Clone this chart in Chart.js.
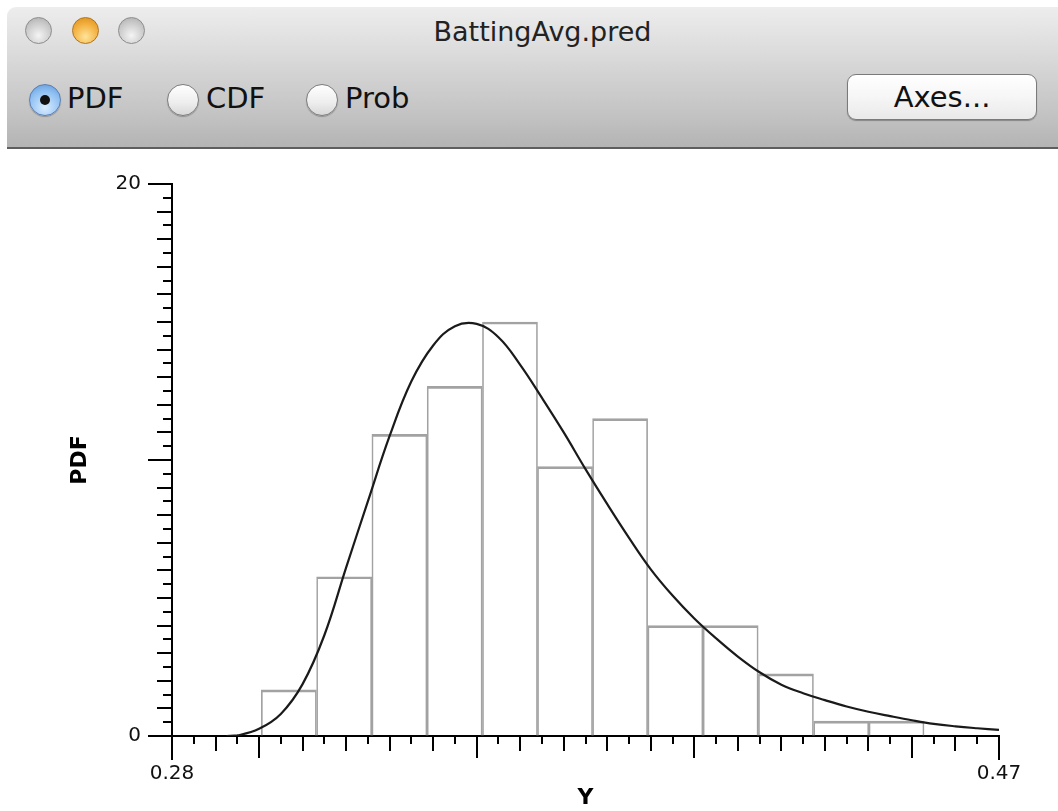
<!DOCTYPE html>
<html>
<head>
<meta charset="utf-8">
<title>BattingAvg.pred</title>
<script src="https://cdn.jsdelivr.net/npm/chart.js@4/dist/chart.umd.min.js"></script>
<style>
  html, body { margin: 0; padding: 0; background: #fff; width: 1058px; height: 811px; overflow: hidden; font-family: "DejaVu Sans", sans-serif; }
  #win { position: absolute; left: 7px; top: 7px; width: 1051px; height: 804px; background: #fff; border-top-left-radius: 9px; overflow: hidden; }
  #toolbar { position: absolute; left: 0; top: 0; width: 100%; height: 140px;
    background: linear-gradient(#ededed, #dadada 35%, #c4c4c4 75%, #b4b4b4);
    border-bottom: 2px solid #5e5e5e; }
  .light { position: absolute; top: 10px; width: 25px; height: 25px; border-radius: 50%;
    border: 1px solid #8c8c8c; background: radial-gradient(circle at 50% 70%, #f4f4f4, #c9c9c9 60%, #a9a9a9); }
  .light.orange { border-color: #b0741c; background: radial-gradient(circle at 50% 75%, #ffe49a, #f3b142 55%, #d98b12); }
  #title { position: absolute; top: 9px; left: 10px; width: 100%; text-align: center; font-size: 27px; color: #222; }
  .radio { position: absolute; top: 77px; width: 30px; height: 30px; border-radius: 50%;
    border: 1px solid #7d7d7d; background: linear-gradient(#ffffff, #ededed 60%, #d8d8d8); box-shadow: 0 1px 1px rgba(0,0,0,.25); }
  .radio.on { border-color: #5b7fb3; background: radial-gradient(circle at 50% 75%, #d9ecff, #8fc0f2 60%, #5b96d8); }
  .radio.on::after { content: ""; position: absolute; left: 10px; top: 10px; width: 10px; height: 10px; border-radius: 50%; background: #111; }
  .rlabel { position: absolute; top: 74px; font-size: 29px; color: #111; }
  #axes { position: absolute; left: 840px; top: 67px; width: 188px; height: 44px; border-radius: 9px;
    border: 1px solid #7a7a7a; background: linear-gradient(#ffffff, #f6f6f6 50%, #e9e9e9);
    box-shadow: 0 1px 1px rgba(0,0,0,.3); text-align: center; line-height: 44px; font-size: 29px; color: #111; }
  #chart { position: absolute; left: 0; top: 150px; }
</style>
</head>
<body>
<div id="win">
  <div id="toolbar">
    <div class="light" style="left:18px"></div>
    <div class="light orange" style="left:65px"></div>
    <div class="light" style="left:111px"></div>
    <div id="title">BattingAvg.pred</div>
    <div class="radio on" style="left:22px"></div><div class="rlabel" style="left:60px">PDF</div>
    <div class="radio" style="left:160px"></div><div class="rlabel" style="left:199px">CDF</div>
    <div class="radio" style="left:299px"></div><div class="rlabel" style="left:338px">Prob</div>
    <div id="axes">Axes...</div>
  </div>
</div>
<canvas id="chart" width="1058" height="661"></canvas>
<script>
// tick labels
const xTickValues = [0.28, 0.47];
const xTickLabels = ['0.28', '0.47'];
const yTickValues = [0, 20];
const yTickLabels = ['0', '20'];

// histogram (density)
const binEdges = [0.3005, 0.3132, 0.3259, 0.3386, 0.3513, 0.3640, 0.3766, 0.3893, 0.4020, 0.4147, 0.4274, 0.4401, 0.4528];
const binHeights = [1.67, 5.77, 10.93, 12.67, 15.00, 9.76, 11.50, 4.00, 4.00, 2.25, 0.54, 0.54];

// fitted pdf curve
const curveX = [0.2925, 0.295, 0.300, 0.305, 0.310, 0.315, 0.320, 0.325, 0.330, 0.335, 0.340, 0.345, 0.350, 0.355, 0.360, 0.365, 0.370, 0.375, 0.380, 0.385, 0.390, 0.395, 0.400, 0.405, 0.410, 0.415, 0.420, 0.425, 0.430, 0.435, 0.440, 0.445, 0.450, 0.455, 0.460, 0.465, 0.470];
const curveY = [0.00, 0.02, 0.26, 0.80, 1.88, 3.65, 6.10, 8.50, 10.87, 12.85, 14.15, 14.85, 14.93, 14.45, 13.45, 12.25, 11.00, 9.67, 8.40, 7.18, 6.04, 5.09, 4.26, 3.54, 2.88, 2.31, 1.86, 1.55, 1.30, 1.07, 0.88, 0.72, 0.57, 0.44, 0.35, 0.28, 0.22];

const bars = binHeights.map((h, i) => ({ x: (binEdges[i] + binEdges[i + 1]) / 2, y: h }));
const curve = curveX.map((x, i) => ({ x: x, y: curveY[i] }));

/* minor / major tick marks, drawn outside the plot like the original */
const axisTicks = {
  id: 'axisTicks',
  afterDraw(chart) {
    const { ctx, chartArea: a, scales: { x, y } } = chart;
    ctx.save();
    ctx.strokeStyle = '#000';
    ctx.lineWidth = 2;
    ctx.beginPath();
    for (let k = 0; k <= 38; k++) {
      const v = 0.28 + k * 0.005;
      const m = Math.round(v * 1000);
      let len = 8;
      if (k === 0 || k === 38) len = 24;
      else if (m % 50 === 0) len = 22;
      else if (m % 10 === 0) len = 15;
      const px = Math.round(x.getPixelForValue(v));
      ctx.moveTo(px, a.bottom);
      ctx.lineTo(px, a.bottom + len);
    }
    for (let k = 0; k <= 40; k++) {
      const v = k * 0.5;
      let len = 9;
      if (v % 10 === 0) len = 24;
      else if (v % 1 === 0) len = 15;
      const py = Math.round(y.getPixelForValue(v));
      ctx.moveTo(a.left - len, py);
      ctx.lineTo(a.left, py);
    }
    ctx.stroke();
    ctx.restore();
  }
};

new Chart(document.getElementById('chart').getContext('2d'), {
  type: 'bar',
  data: {
    datasets: [{
      type: 'line',
      data: curve,
      borderColor: '#1a1a1a',
      borderWidth: 2.2,
      pointRadius: 0,
      tension: 0.4,
      fill: false,
      order: 0
    }, {
      type: 'bar',
      data: bars,
      backgroundColor: 'rgba(255,255,255,0)',
      borderColor: '#a2a2a2',
      borderWidth: { top: 2, left: 1, right: 1, bottom: 0 },
      barPercentage: 1,
      categoryPercentage: 1,
      order: 1
    }]
  },
  options: {
    responsive: false,
    animation: false,
    layout: { padding: { top: 34, right: 59, left: 0, bottom: 0 } },
    plugins: { legend: { display: false }, tooltip: { enabled: false } },
    scales: {
      x: {
        type: 'linear',
        min: 0.28, max: 0.47,
        offset: false,
        grid: { display: true, offset: false, drawOnChartArea: false, drawTicks: false },
        border: { display: true, color: '#000', width: 2 },
        afterBuildTicks: (s) => { s.ticks = xTickValues.map(v => ({ value: v })); },
        afterFit: (s) => { s.height = 75; s.paddingLeft = 0; s.paddingRight = 0; },
        ticks: {
          padding: 26,
          maxRotation: 0,
          autoSkip: false,
          color: '#111',
          font: { family: 'DejaVu Sans', size: 20 },
          callback: (v) => xTickLabels[xTickValues.indexOf(v)]
        },
        title: {
          display: true, text: 'Y', color: '#000',
          font: { family: 'DejaVu Sans', size: 22, weight: 'bold' },
          padding: { top: 0, bottom: 0 }
        }
      },
      y: {
        min: 0, max: 20,
        grid: { display: true, drawOnChartArea: false, drawTicks: false },
        border: { display: true, color: '#000', width: 2 },
        afterBuildTicks: (s) => { s.ticks = yTickValues.map(v => ({ value: v })); },
        afterFit: (s) => { s.width = 172; s.paddingTop = 0; s.paddingBottom = 0; },
        ticks: {
          padding: 31,
          color: '#111',
          font: { family: 'DejaVu Sans', size: 20 },
          callback: (v) => yTickLabels[yTickValues.indexOf(v)]
        },
        title: {
          display: true, text: 'PDF', color: '#000',
          font: { family: 'DejaVu Sans', size: 22, weight: 'bold' },
          padding: { top: 67, bottom: 0 }
        }
      }
    }
  },
  plugins: [axisTicks]
});
</script>
</body>
</html>
